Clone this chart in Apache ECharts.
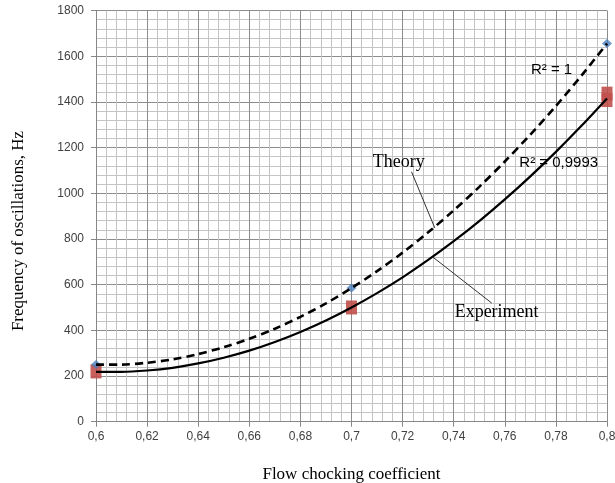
<!DOCTYPE html>
<html>
<head>
<meta charset="utf-8">
<script src="https://cdn.jsdelivr.net/npm/echarts@6/dist/echarts.min.js"></script>
<style>
html,body{margin:0;padding:0;background:#fff;}
#chart{width:615px;height:483px;}
</style>
</head>
<body>
<div id="chart"></div>
<script>
// Curve samples (trend lines)
const curveX = [0.60,0.61,0.62,0.63,0.64,0.65,0.66,0.67,0.68,0.69,0.70,0.71,0.72,0.73,0.74,0.75,0.76,0.77,0.78,0.79,0.80];
const theoryCurve = [250,250,258,273,296,326,363,407,459,518,585,659,740,829,925,1028,1139,1257,1382,1515,1655];
const experimentCurve = [218,218,224,236,255,280,311,349,393,443,500,563,632,708,790,878,973,1074,1181,1295,1415];
// Measured / calculated points
const theoryPtX = [0.6,0.7,0.8];
const theoryPtY = [250,585,1655];
const expPtX = [0.6,0.7,0.8,0.8];
const expPtY = [220,500,1408,1436];
// Axis
const xMin = 0.6, xMax = 0.8, xStep = 0.02;
const yMin = 0, yMax = 1800, yStep = 200;
const xTitle = 'Flow chocking coefficient';
const yTitle = 'Frequency of oscillations, Hz';
// Annotation texts and anchors (data coordinates)
const annTheory = {text:'Theory', at:[0.7185,1136], from:[0.7235,1094], to:[0.7326,848]};
const annExp = {text:'Experiment', at:[0.7568,480], from:[0.7549,519], to:[0.7318,721]};
const annR1 = {text:'R² = 1', at:[0.7783,1539]};
const annR2 = {text:'R² = 0,9993', at:[0.7811,1132]};

const zip = (a,b)=>a.map((v,i)=>[v,b[i]]);
const chart = echarts.init(document.getElementById('chart'), null, {renderer:'canvas'});
const option = {
  animation:false,
  backgroundColor:'#fff',
  grid:{left:96, right:8, top:10.5, bottom:61.3, containLabel:false, outerBoundsMode:'none'},
  xAxis:{
    type:'value', min:xMin, max:xMax, interval:xStep,
    name:xTitle, nameLocation:'middle', nameGap:44,
    nameTextStyle:{fontFamily:'Liberation Serif', fontSize:17, color:'#000'},
    axisLine:{show:true, onZero:false, lineStyle:{color:'#868686', width:1}},
    axisTick:{show:true, length:5, lineStyle:{color:'#868686'}},
    axisLabel:{margin:9, fontFamily:'Liberation Sans', fontSize:12, color:'#404040',
      formatter:v=>String(Number(v.toFixed(2))).replace('.',',')},
    splitLine:{show:true, lineStyle:{color:'#8c8c8c', width:1}},
    minorTick:{show:false, splitNumber:5},
    minorSplitLine:{show:true, lineStyle:{color:'#c4c4c4', width:1}}
  },
  yAxis:{
    type:'value', min:yMin, max:yMax, interval:yStep,
    axisLine:{show:true, lineStyle:{color:'#868686', width:1}},
    axisTick:{show:true, length:5, lineStyle:{color:'#868686'}},
    axisLabel:{margin:12, fontFamily:'Liberation Sans', fontSize:12, color:'#404040',
      formatter:v=>String(v)},
    splitLine:{show:true, lineStyle:{color:'#8c8c8c', width:1}},
    minorTick:{show:false, splitNumber:5},
    minorSplitLine:{show:true, lineStyle:{color:'#c4c4c4', width:1}}
  },
  series:[
    {type:'scatter', name:'Experiment points', data:zip(expPtX,expPtY), symbol:'rect', symbolSize:[11,14],
      itemStyle:{color:'#c0504d', opacity:0.9}, z:2},
    {type:'scatter', name:'Theory points', data:zip(theoryPtX,theoryPtY), symbol:'diamond', symbolSize:[10,9],
      itemStyle:{color:'#4a7ebb'}, z:2},
    {type:'line', name:'Theory', data:zip(curveX,theoryCurve), smooth:0.3, showSymbol:false, symbol:'none',
      lineStyle:{color:'#000', width:2.6, type:[8,5]}, z:3},
    {type:'line', name:'Experiment', data:zip(curveX,experimentCurve), smooth:0.3, showSymbol:false, symbol:'none',
      lineStyle:{color:'#000', width:2.2}, z:3}
  ]
};
chart.setOption(option);

const px = p => chart.convertToPixel({gridIndex:0}, p);
const serif = 'Liberation Serif';
function textEl(a, font, size){
  const p = px(a.at);
  return {type:'text', x:p[0], y:p[1], z:10,
    style:{text:a.text, fontFamily:font, fontSize:size, fill:'#000', align:'center', verticalAlign:'middle'}};
}
function lineEl(a){
  const p1 = px(a.from), p2 = px(a.to);
  return {type:'line', z:10, shape:{x1:p1[0], y1:p1[1], x2:p2[0], y2:p2[1]}, style:{stroke:'#333', lineWidth:1}};
}
chart.setOption({graphic:[
  textEl(annTheory, serif, 18),
  textEl(annExp, serif, 18),
  lineEl(annTheory),
  lineEl(annExp),
  textEl(annR1, 'Liberation Sans', 15),
  textEl(annR2, 'Liberation Sans', 15),
  {type:'text', x:19, y:231, rotation:Math.PI/2, z:10,
    style:{text:yTitle, fontFamily:serif, fontSize:17, fill:'#000', align:'center', verticalAlign:'middle'}}
]});
</script>
</body>
</html>
